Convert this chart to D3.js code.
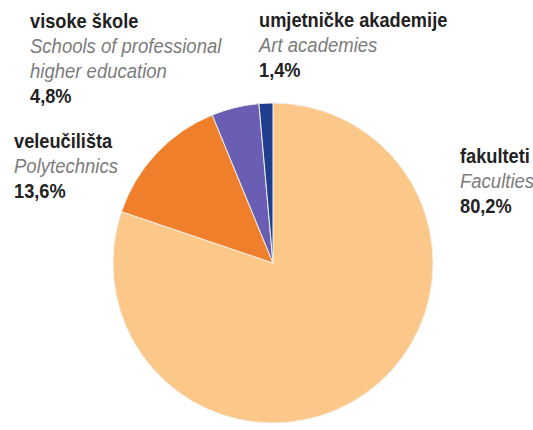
<!DOCTYPE html>
<html lang="hr">
<head>
    <meta charset="UTF-8">
    <script src="https://d3js.org/d3.v7.min.js"></script>
    <title>Visoka učilišta</title>
    <style>
        body { margin: 0; background: #fff; }
        svg { display: block; }
        text { font-family: "Liberation Sans", Arial, sans-serif; font-size: 19.5px; }
        .name { font-weight: bold; fill: #222; }
        .eng { font-style: italic; fill: #7c7c7c; }
        .pct { font-weight: bold; fill: #222; }
    </style>
</head>
<body>
    <div id="chart"></div>
<script>
    // data, clockwise from 12 o'clock
    var names   = ["fakulteti", "veleučilišta", "visoke škole", "umjetničke akademije"];
    var english = [["Faculties"], ["Polytechnics"], ["Schools of professional", "higher education"], ["Art academies"]];
    var shares  = [80.2, 13.6, 4.8, 1.4];
    var colors  = ["#fcc889", "#f07f2c", "#6a5eb4", "#1f3f8e"];

    // label anchors (first baseline)
    var labelPos = [[460, 163], [14, 148], [30, 28], [259, 27]];

    var width = 533, height = 430;
    var cx = 273, cy = 263, radius = 160;

    var svg = d3.select("#chart").append("svg")
        .attr("width", width)
        .attr("height", height);

    var pie = d3.pie().sort(null).value(function(d) { return d; });
    var arc = d3.arc().innerRadius(0).outerRadius(radius);

    var g = svg.append("g").attr("transform", "translate(" + cx + "," + cy + ")");

    g.selectAll("path").data(pie(shares)).enter().append("path")
        .attr("d", arc)
        .attr("fill", function(d, i) { return colors[i]; })
        .attr("stroke", "#f4eee6")
        .attr("stroke-width", 1);

    // condensed look: squeeze text horizontally
    var lineH = 25;
    var squeeze = { name: 0.935, eng: 0.95, pct: 0.935 };
    function put(cls, x, y, s) {
        svg.append("text").attr("class", cls)
            .attr("transform", "translate(" + x + "," + y + ") scale(" + squeeze[cls] + ",1)")
            .text(s);
    }

    names.forEach(function(n, i) {
        var x = labelPos[i][0], y = labelPos[i][1];
        put("name", x, y, n);
        english[i].forEach(function(s, j) {
            put("eng", x, y + lineH * (j + 1), s);
        });
        put("pct", x, y + lineH * (english[i].length + 1),
            d3.format(".1f")(shares[i]).replace(".", ",") + "%");
    });
</script>
</body>
</html>
